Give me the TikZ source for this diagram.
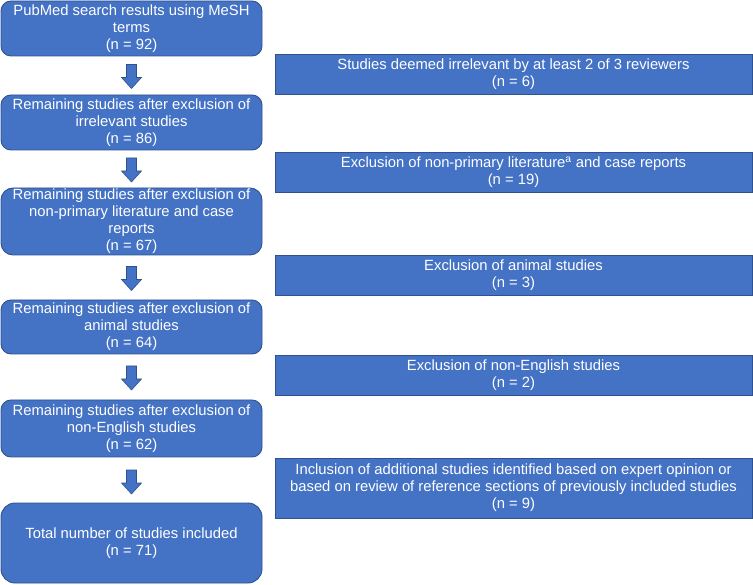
\documentclass[tikz,border=0pt]{standalone}
\usepackage{fontspec}
\setmainfont{Liberation Sans}
\usetikzlibrary{calc}
\definecolor{boxblue}{HTML}{4472C4}
\definecolor{edgeblue}{HTML}{2F528F}
\begin{document}
\begin{tikzpicture}[x=1pt,y=-1pt,
  box/.style={draw=edgeblue, fill=boxblue, line width=0.9pt, text=white, align=center,
    inner sep=0pt, font=\fontsize{14.8}{17}\selectfont},
  lbox/.style={box, rounded corners=#1, minimum width=261pt},
  rbox/.style={box, minimum width=477pt},
  darr/.pic={\filldraw[fill=boxblue, draw=edgeblue, line width=0.6pt]
    (-5,-12) -- (5,-12) -- (5,1) -- (10,1) -- (0,12) -- (-10,1) -- (-5,1) -- cycle;}
]
\useasboundingbox (0,0) rectangle (753,585);

% left column
\node[lbox=10pt, minimum height=55pt] (b1) at (131.5,28.5)
  {PubMed search results using MeSH\\terms\\(n = 92)};
\node[lbox=10pt, minimum height=55pt] (b2) at (131.5,122.5)
  {Remaining studies after exclusion of\\irrelevant studies\\(n = 86)};
\node[lbox=12pt, minimum height=67pt] (b3) at (131.5,221.5)
  {Remaining studies after exclusion of\\non-primary literature and case\\reports\\(n = 67)};
\node[lbox=10pt, minimum height=54pt] (b4) at (131.5,327)
  {Remaining studies after exclusion of\\animal studies\\(n = 64)};
\node[lbox=10pt, minimum height=57pt] (b5) at (131.5,428.5)
  {Remaining studies after exclusion of\\non-English studies\\(n = 62)};
\node[lbox=14pt, minimum height=80pt] (b6) at (131.5,543)
  {Total number of studies included\\(n = 71)};

% right column
\node[rbox, minimum height=40pt] (r1) at (513.5,74)
  {Studies deemed irrelevant by at least 2 of 3 reviewers\\(n = 6)};
\node[rbox, minimum height=40pt] (r2) at (513.5,172)
  {Exclusion of non-primary literature\textsuperscript{a} and case reports\\(n = 19)};
\node[rbox, minimum height=40pt] (r3) at (513.5,275)
  {Exclusion of animal studies\\(n = 3)};
\node[rbox, minimum height=40pt] (r4) at (513.5,375)
  {Exclusion of non-English studies\\(n = 2)};
\node[rbox, minimum height=60pt] (r5) at (513.5,488)
  {Inclusion of additional studies identified based on expert opinion or\\based on review of reference sections of previously included studies\\(n = 9)};

% block arrows
\pic at ($(b1.south)!0.5!(b2.north)+(0,1)$) {darr};
\pic at ($(b2.south)!0.5!(b3.north)+(0,1)$) {darr};
\pic at ($(b3.south)!0.5!(b4.north)+(0,1)$) {darr};
\pic at ($(b4.south)!0.5!(b5.north)+(0,1)$) {darr};
\pic at ($(b5.south)!0.5!(b6.north)+(0,2)$) {darr};
\end{tikzpicture}
\end{document}
